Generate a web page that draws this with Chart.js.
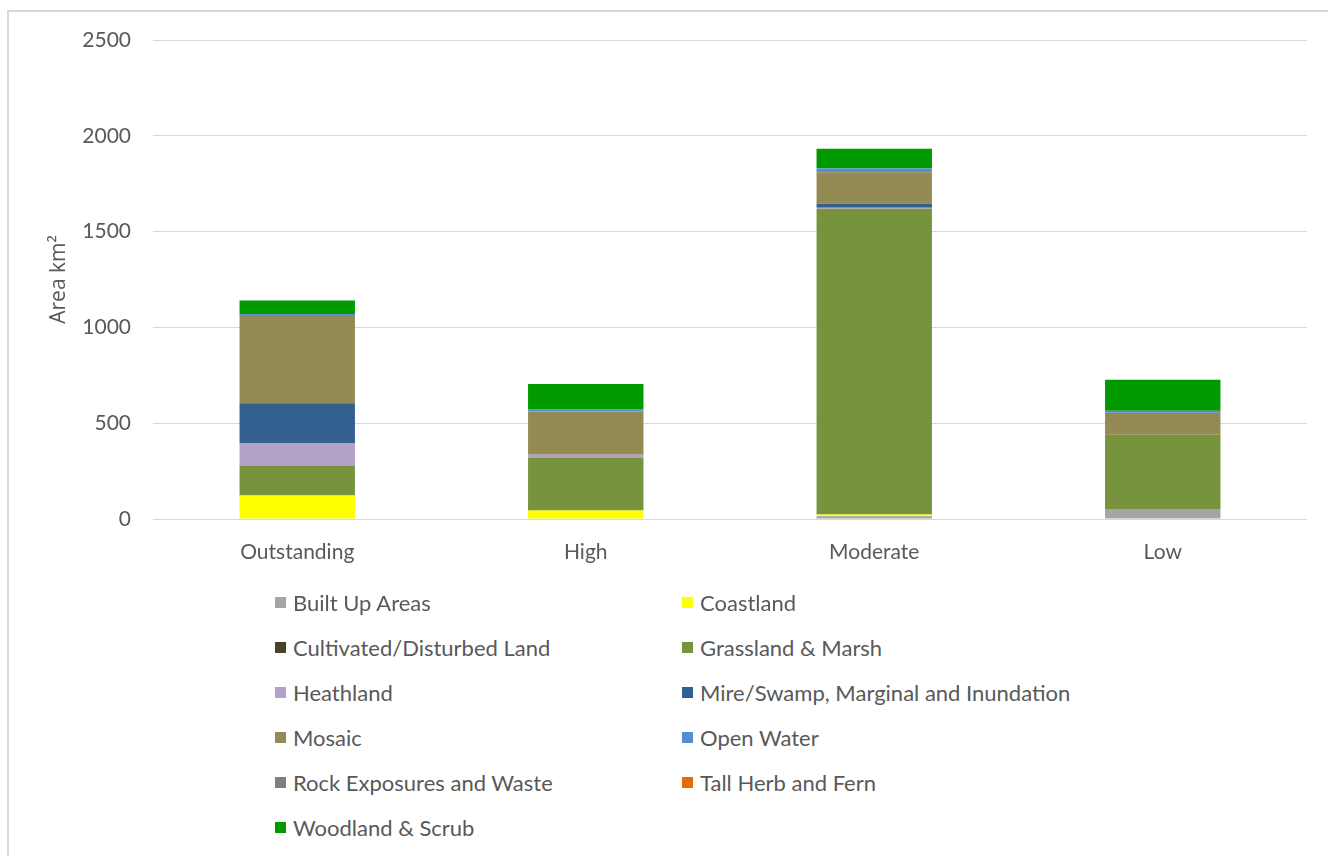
<!DOCTYPE html>
<html>
<head>
<meta charset="utf-8">
<script src="https://cdn.jsdelivr.net/npm/chart.js@4"></script>
<style>
    body { margin: 0; background: #fff; font-family: Lato, sans-serif; }
    #wrap { position: relative; width: 1328px; height: 856px; overflow: hidden; }
    #frame { position: absolute; left: 7px; top: 10px; right: -10px; bottom: -10px; border-left: 2px solid #d9d9d9; border-top: 2px solid #d9d9d9; }
    #chartBox { position: absolute; left: 0; top: 0; width: 1328px; height: 600px; }
    #legend { position: absolute; left: 275px; top: 589px; width: 900px; }
    .item { position: absolute; display: flex; align-items: center; color: #595959; font-size: 22px; white-space: nowrap; }
    .item span.box { width: 11px; height: 11px; margin-right: 7px; display: inline-block; }
</style>
</head>
<body>
<div id="wrap">
    <div id="frame"></div>
    <div id="chartBox"><canvas id="habitatChart" width="1328" height="600"></canvas></div>
    <div id="legend"></div>
</div>
<script>
    const categories = ['Outstanding', 'High', 'Moderate', 'Low'];

    // area km2 per class, in order Outstanding, High, Moderate, Low
    const builtUp = [2, 3, 14, 52];
    const coastland = [120, 42, 10, 0];
    const cultivated = [0, 0, 0, 0];
    const grassland = [157, 273, 1595, 388];
    const heathland = [118, 17, 5, 0];
    const mire = [207, 0, 21, 0];
    const mosaic = [461, 226, 165, 108];
    const openWater = [5, 8, 19, 9];
    const rock = [0, 3, 0, 8];
    const tallHerb = [0, 0, 0, 0];
    const woodland = [70, 132, 104, 162];

    const yTicks = [0, 500, 1000, 1500, 2000, 2500];

    const series = [
        { label: 'Built Up Areas', data: builtUp, color: '#a5a5a5' },
        { label: 'Coastland', data: coastland, color: '#ffff00' },
        { label: 'Cultivated/Disturbed Land', data: cultivated, color: '#4a4228' },
        { label: 'Grassland & Marsh', data: grassland, color: '#77933c' },
        { label: 'Heathland', data: heathland, color: '#b3a2c7' },
        { label: 'Mire/Swamp, Marginal and Inundation', data: mire, color: '#335f91' },
        { label: 'Mosaic', data: mosaic, color: '#948a54' },
        { label: 'Open Water', data: openWater, color: '#558ed5' },
        { label: 'Rock Exposures and Waste', data: rock, color: '#7f7f7f' },
        { label: 'Tall Herb and Fern', data: tallHerb, color: '#e46c0a' },
        { label: 'Woodland & Scrub', data: woodland, color: '#009900' }
    ];

    const ctx = document.getElementById('habitatChart').getContext('2d');
    const chart = new Chart(ctx, {
        type: 'bar',
        data: {
            labels: categories,
            datasets: series.map(function(s) {
                return {
                    label: s.label,
                    data: s.data,
                    backgroundColor: s.color,
                    borderWidth: 0,
                    categoryPercentage: 1,
                    barPercentage: 0.4
                };
            })
        },
        options: {
            responsive: false,
            animation: false,
            layout: { padding: { top: 40, right: 21, left: 0, bottom: 0 } },
            plugins: {
                legend: { display: false },
                tooltip: { enabled: false }
            },
            scales: {
                x: {
                    stacked: true,
                    grid: { display: false },
                    border: { display: false },
                    ticks: { color: '#595959', font: { family: 'Lato', size: 21 }, padding: 13 },
                    afterFit: function(scale) { scale.height = 81; }
                },
                y: {
                    stacked: true,
                    min: 0,
                    max: 2500,
                    afterBuildTicks: function(scale) {
                        scale.ticks = yTicks.map(function(v) { return { value: v }; });
                    },
                    grid: { color: '#d9d9d9', lineWidth: 1, drawTicks: false },
                    border: { display: false },
                    ticks: {
                        color: '#595959',
                        font: { family: 'Lato', size: 21 },
                        padding: 22,
                        callback: function(v) { return String(v); }
                    },
                    title: {
                        display: true,
                        text: 'Area km²',
                        color: '#595959',
                        font: { family: 'Open Sans', size: 21 },
                        padding: { top: 46, bottom: 0 }
                    },
                    afterFit: function(scale) { scale.width = 153; }
                }
            }
        }
    });

    // two-column legend built from the datasets
    const legend = document.getElementById('legend');
    chart.data.datasets.forEach(function(ds, i) {
        const item = document.createElement('div');
        item.className = 'item';
        item.style.left = (i % 2 === 0 ? 0 : 407) + 'px';
        item.style.top = (Math.floor(i / 2) * 45) + 'px';
        item.innerHTML = '<span class="box" style="background:' + ds.backgroundColor + '"></span>' + ds.label;
        legend.appendChild(item);
    });
</script>
</body>
</html>
